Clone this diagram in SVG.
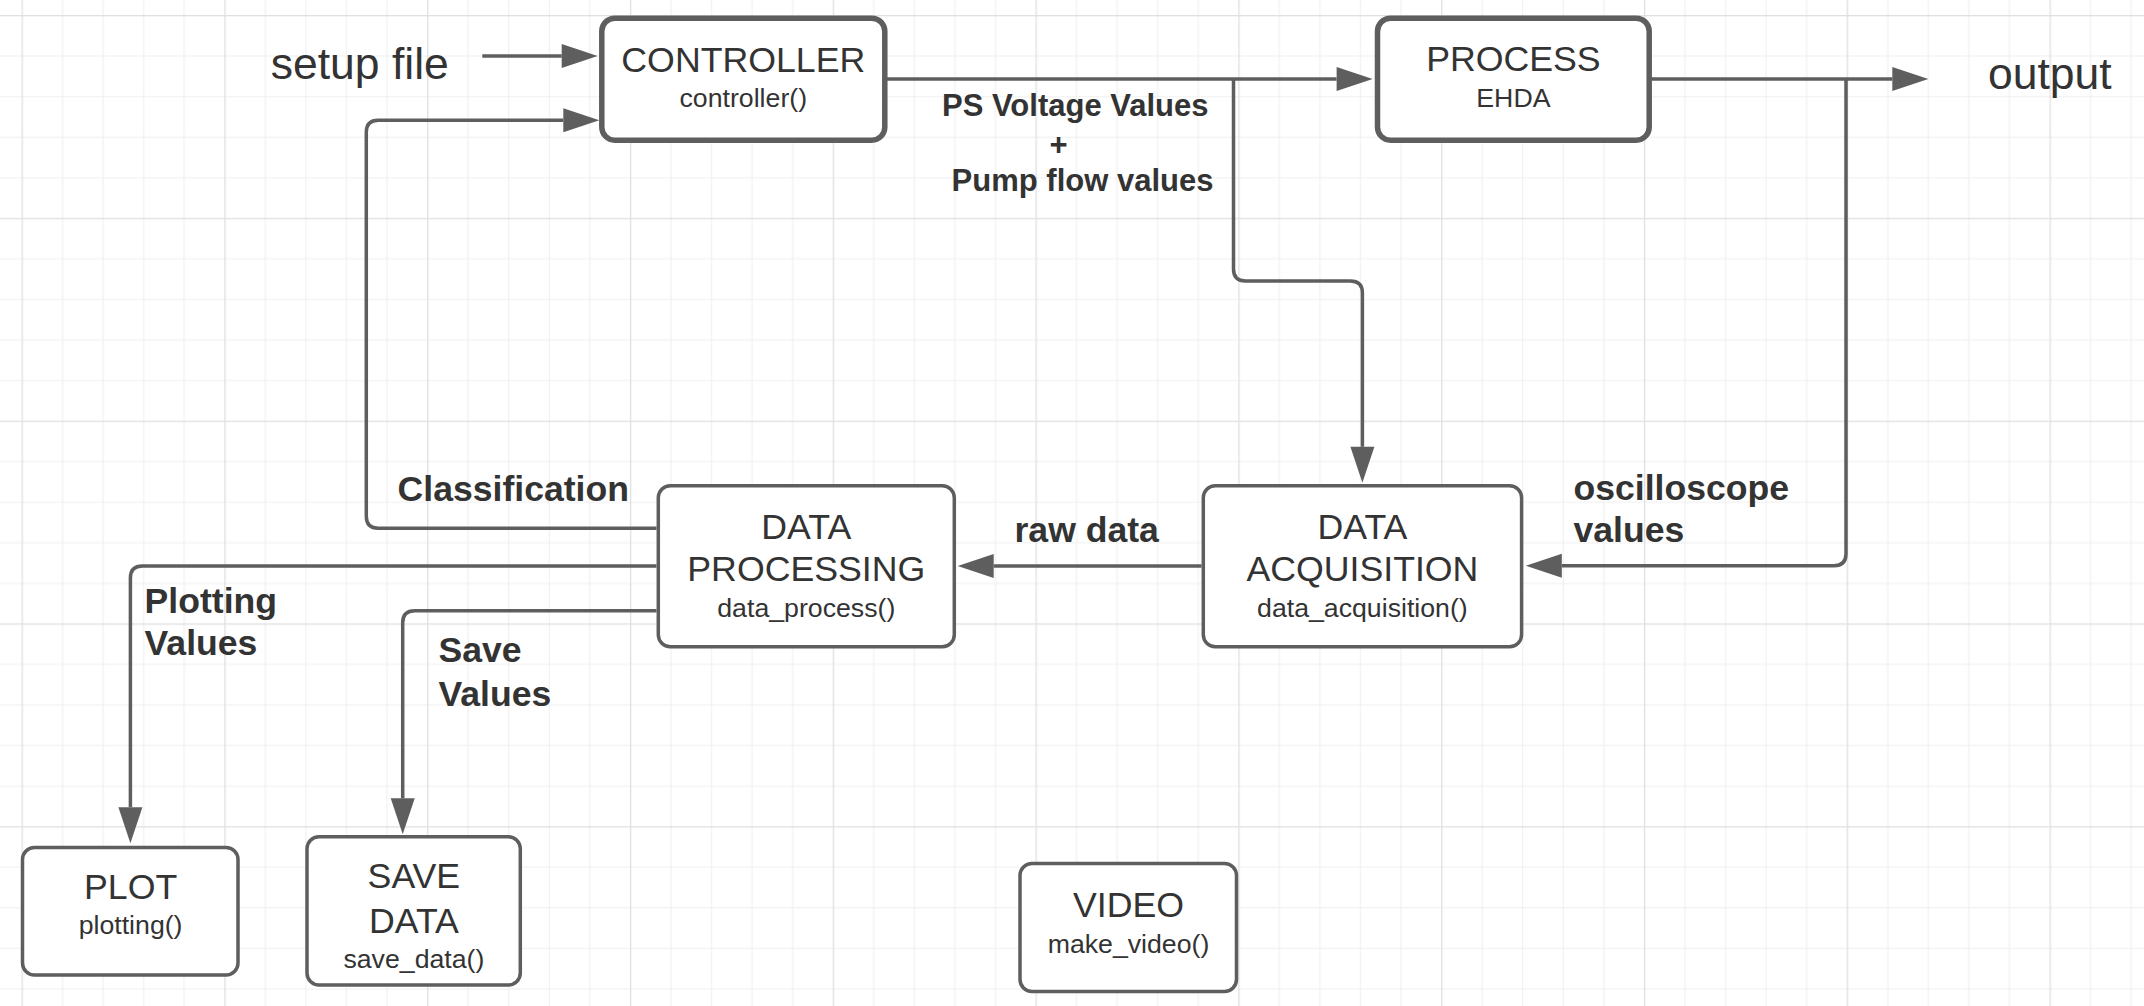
<svg xmlns="http://www.w3.org/2000/svg" width="2144" height="1006" viewBox="0 0 2144 1006">
<defs>
<pattern id="grid" patternUnits="userSpaceOnUse" x="21.5" y="15" width="202.8" height="202.8">
<rect x="0" y="0" width="202.8" height="202.8" fill="#ffffff"/>
<path d="M41.06,0V202.8M81.62,0V202.8M122.18,0V202.8M162.74,0V202.8M0,41.06H202.8M0,81.62H202.8M0,122.18H202.8M0,162.74H202.8" stroke="#efefef" stroke-width="1" fill="none"/>
<rect x="0" y="0" width="1.3" height="202.8" fill="#e0e0e0"/>
<rect x="0" y="0" width="202.8" height="1.3" fill="#e0e0e0"/>
</pattern>
<marker id="arr" markerUnits="userSpaceOnUse" markerWidth="37" markerHeight="25" refX="0" refY="12" orient="auto" overflow="visible">
<path d="M0,0 L36,12 L0,24 Z" fill="#5e5e5e"/>
</marker>
<style>
.box{fill:#ffffff;stroke:#5e5e5e;stroke-width:3.5}
.bold{fill:#ffffff;stroke:#5e5e5e;stroke-width:5.5}
.t{font-family:"Liberation Sans",Arial,sans-serif;fill:#333333;text-anchor:middle}
.m{font-size:35.7px}
.s{font-size:26.7px}
.big{font-family:"Liberation Sans",Arial,sans-serif;fill:#333333;font-size:44.5px}
.lb{font-family:"Liberation Sans",Arial,sans-serif;fill:#333333;font-weight:bold;font-size:35.6px}
.lb2{font-family:"Liberation Sans",Arial,sans-serif;fill:#333333;font-weight:bold;font-size:31px}
.c{fill:none;stroke:#5e5e5e;stroke-width:3.5;marker-end:url(#arr)}
</style>
</defs>
<rect x="0" y="0" width="2144" height="1006" fill="url(#grid)"/>

<g id="connectors">
<path class="c" d="M482.3,56 L561.7,56"/>
<path class="c" d="M887,79 L1336.6,79"/>
<path class="c" d="M1233.5,79 L1233.5,269 Q1233.5,281 1245.5,281 L1350.4,281 Q1362.4,281 1362.4,293 L1362.4,446.7"/>
<path class="c" d="M1651,79 L1892.3,79"/>
<path class="c" d="M1846,79 L1846,553.7 Q1846,565.7 1834,565.7 L1561.8,565.7"/>
<path class="c" d="M1201.5,566 L993.7,566"/>
<path class="c" d="M656.5,528.3 L378.3,528.3 Q366.3,528.3 366.3,516.3 L366.3,132.3 Q366.3,120.3 378.3,120.3 L563.3,120.3"/>
<path class="c" d="M656.5,566 L142.4,566 Q130.4,566 130.4,578 L130.4,807.3"/>
<path class="c" d="M656.5,610.7 L414.7,610.7 Q402.7,610.7 402.7,622.7 L402.7,798.3"/>
</g>

<g id="labels">
<text class="big" x="270.7" y="79">setup file</text>
<text class="big" x="1988" y="89">output</text>
<text class="lb2" x="942" y="115.7">PS Voltage Values</text>
<text class="lb2" x="1058.6" y="155" text-anchor="middle">+</text>
<text class="lb2" x="951.6" y="190.7">Pump flow values</text>
<text class="lb" x="397.6" y="501">Classification</text>
<text class="lb" x="1014.5" y="541.7">raw data</text>
<text class="lb" x="1573.5" y="500">oscilloscope</text>
<text class="lb" x="1573.5" y="541.7">values</text>
<text class="lb" x="144.6" y="612.7">Plotting</text>
<text class="lb" x="144.6" y="655">Values</text>
<text class="lb" x="438.5" y="662.3">Save</text>
<text class="lb" x="438.5" y="705.7">Values</text>
</g>

<g id="controller">
<rect class="bold" x="601.8" y="18.2" width="283" height="122" rx="13"/>
<text class="t m" x="743.3" y="71.7">CONTROLLER</text>
<text class="t s" x="743.3" y="107.3">controller()</text>
</g>

<g id="process">
<rect class="bold" x="1377.5" y="18.2" width="271.7" height="122" rx="13"/>
<text class="t m" x="1513.4" y="71.2">PROCESS</text>
<text class="t s" x="1513.4" y="107.3">EHDA</text>
</g>

<g id="data-processing">
<rect class="box" x="658.3" y="485.7" width="296" height="161" rx="12"/>
<text class="t m" x="806.3" y="539">DATA</text>
<text class="t m" x="806.3" y="581">PROCESSING</text>
<text class="t s" x="806.3" y="616.7">data_process()</text>
</g>

<g id="data-acquisition">
<rect class="box" x="1203.3" y="485.7" width="318.3" height="161" rx="12"/>
<text class="t m" x="1362.4" y="539">DATA</text>
<text class="t m" x="1362.4" y="581">ACQUISITION</text>
<text class="t s" x="1362.4" y="616.7">data_acquisition()</text>
</g>

<g id="plot">
<rect class="box" x="22.5" y="847.5" width="215.5" height="127.5" rx="12"/>
<text class="t m" x="130.6" y="899.3">PLOT</text>
<text class="t s" x="130.6" y="934.3">plotting()</text>
</g>

<g id="save-data">
<rect class="box" x="307" y="836.7" width="213.3" height="148.3" rx="12"/>
<text class="t m" x="413.9" y="888.3">SAVE</text>
<text class="t m" x="413.9" y="932.7">DATA</text>
<text class="t s" x="413.9" y="968.3">save_data()</text>
</g>

<g id="video">
<rect class="box" x="1020" y="863.5" width="216.5" height="128" rx="12"/>
<text class="t m" x="1128.5" y="916.7">VIDEO</text>
<text class="t s" x="1128.5" y="952.7">make_video()</text>
</g>
</svg>
